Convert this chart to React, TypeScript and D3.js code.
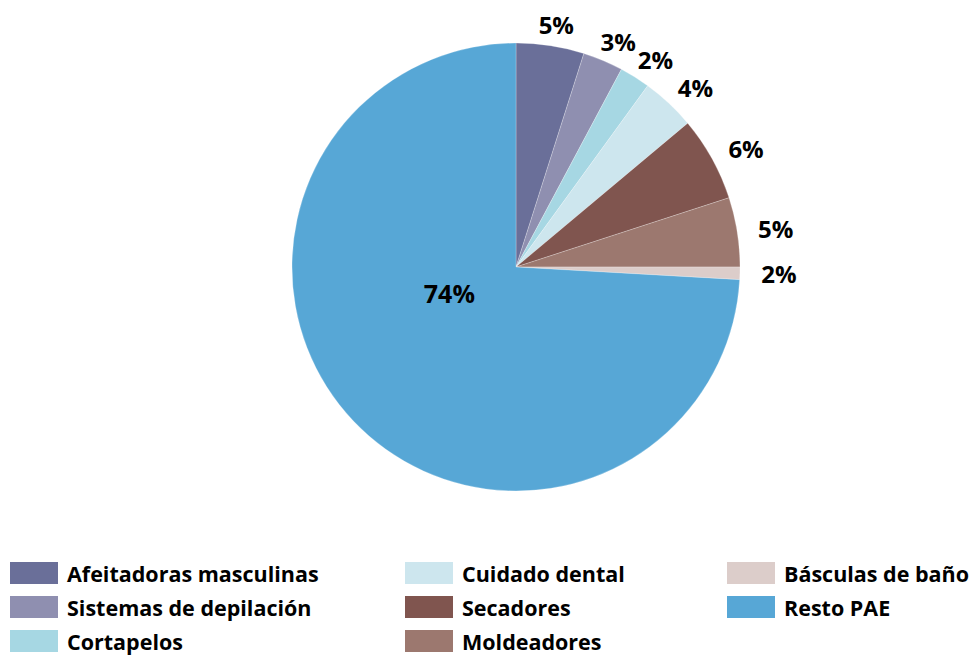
import React, { useRef, useEffect } from 'react';
import * as d3 from 'd3';

const categories = [
  'Afeitadoras masculinas',
  'Sistemas de depilación',
  'Cortapelos',
  'Cuidado dental',
  'Secadores',
  'Moldeadores',
  'Básculas de baño',
  'Resto PAE'
];
const shares = [4.9, 2.9, 2.2, 3.9, 6.1, 5.0, 0.9, 74.1];
const percentLabels = ['5%', '3%', '2%', '4%', '6%', '5%', '2%', '74%'];
const colors = ['#6a6f99', '#8f8fb0', '#a6d7e3', '#cde6ee', '#80554f', '#9c786f', '#dccdca', '#57a7d6'];

interface Slice {
  name: string;
  value: number;
  label: string;
  color: string;
}

export default function App() {
  const svgRef = useRef<SVGSVGElement>(null);

  useEffect(() => {
    const width = 980;
    const height = 656;
    const svg = d3.select(svgRef.current);
    svg.selectAll('*').remove();
    svg.attr('width', width).attr('height', height);

    const data: Slice[] = categories.map((name, i) => ({
      name,
      value: shares[i],
      label: percentLabels[i],
      color: colors[i]
    }));

    const cx = 516;
    const cy = 267;
    const radius = 224;
    const font = '"Open Sans", "DejaVu Sans", sans-serif';

    const pie = d3.pie<Slice>().value(d => d.value).sort(null);
    const arcs = pie(data);
    const arc = d3.arc<d3.PieArcDatum<Slice>>().innerRadius(0).outerRadius(radius);

    const g = svg.append('g').attr('transform', `translate(${cx},${cy})`);

    g.selectAll('path')
      .data(arcs)
      .enter()
      .append('path')
      .attr('d', arc)
      .attr('fill', d => d.data.color)
      .attr('stroke', '#ffffff')
      .attr('stroke-opacity', 0.4)
      .attr('stroke-width', 0.6);

    // outside labels (all but the big slice)
    const gap = 12;
    const halfW = 27;
    const halfH = 9;
    const outside = arcs.filter(d => d.data.value < 50);
    g.selectAll('text.out')
      .data(outside)
      .enter()
      .append('text')
      .attr('class', 'out')
      .attr('x', d => {
        const a = (d.startAngle + d.endAngle) / 2;
        return Math.sin(a) * (radius + gap + halfW);
      })
      .attr('y', d => {
        const a = (d.startAngle + d.endAngle) / 2;
        return -Math.cos(a) * (radius + gap + halfH);
      })
      .attr('text-anchor', 'middle')
      .attr('dominant-baseline', 'central')
      .attr('font-family', font)
      .attr('font-weight', 700)
      .attr('font-size', 24)
      .attr('fill', '#000')
      .text(d => d.data.label);

    // inside label for the big slice
    const inside = arcs.filter(d => d.data.value >= 50);
    g.selectAll('text.in')
      .data(inside)
      .enter()
      .append('text')
      .attr('class', 'in')
      .attr('x', d => {
        const a = (d.startAngle + d.endAngle) / 2 + 0.38;
        return Math.sin(a) * radius * 0.32;
      })
      .attr('y', d => {
        const a = (d.startAngle + d.endAngle) / 2 + 0.38;
        return -Math.cos(a) * radius * 0.32;
      })
      .attr('text-anchor', 'middle')
      .attr('dominant-baseline', 'central')
      .attr('font-family', font)
      .attr('font-weight', 700)
      .attr('font-size', 25)
      .attr('fill', '#000')
      .text(d => d.data.label);

    // legend: column-major, 3 rows
    const rows = 3;
    const colX = d3.scaleOrdinal<number, number>().domain([0, 1, 2]).range([10, 405, 727]);
    const rowY = d3.scaleLinear().domain([0, rows - 1]).range([573, 641]);
    const legend = svg.append('g');
    const items = legend.selectAll('g')
      .data(data)
      .enter()
      .append('g')
      .attr('transform', (d, i) => `translate(${colX(Math.floor(i / rows))},${rowY(i % rows)})`);

    items.append('rect')
      .attr('x', 0)
      .attr('y', -11)
      .attr('width', 48)
      .attr('height', 22)
      .attr('fill', d => d.color);

    items.append('text')
      .attr('x', 57)
      .attr('y', 0)
      .attr('dominant-baseline', 'central')
      .attr('font-family', font)
      .attr('font-weight', 700)
      .attr('font-size', 21.5)
      .attr('fill', '#000')
      .text(d => d.name);
  }, []);

  return (
    <div style={{ position: 'absolute', left: 0, top: 0 }}>
      <svg ref={svgRef} style={{ display: 'block' }} />
    </div>
  );
}
